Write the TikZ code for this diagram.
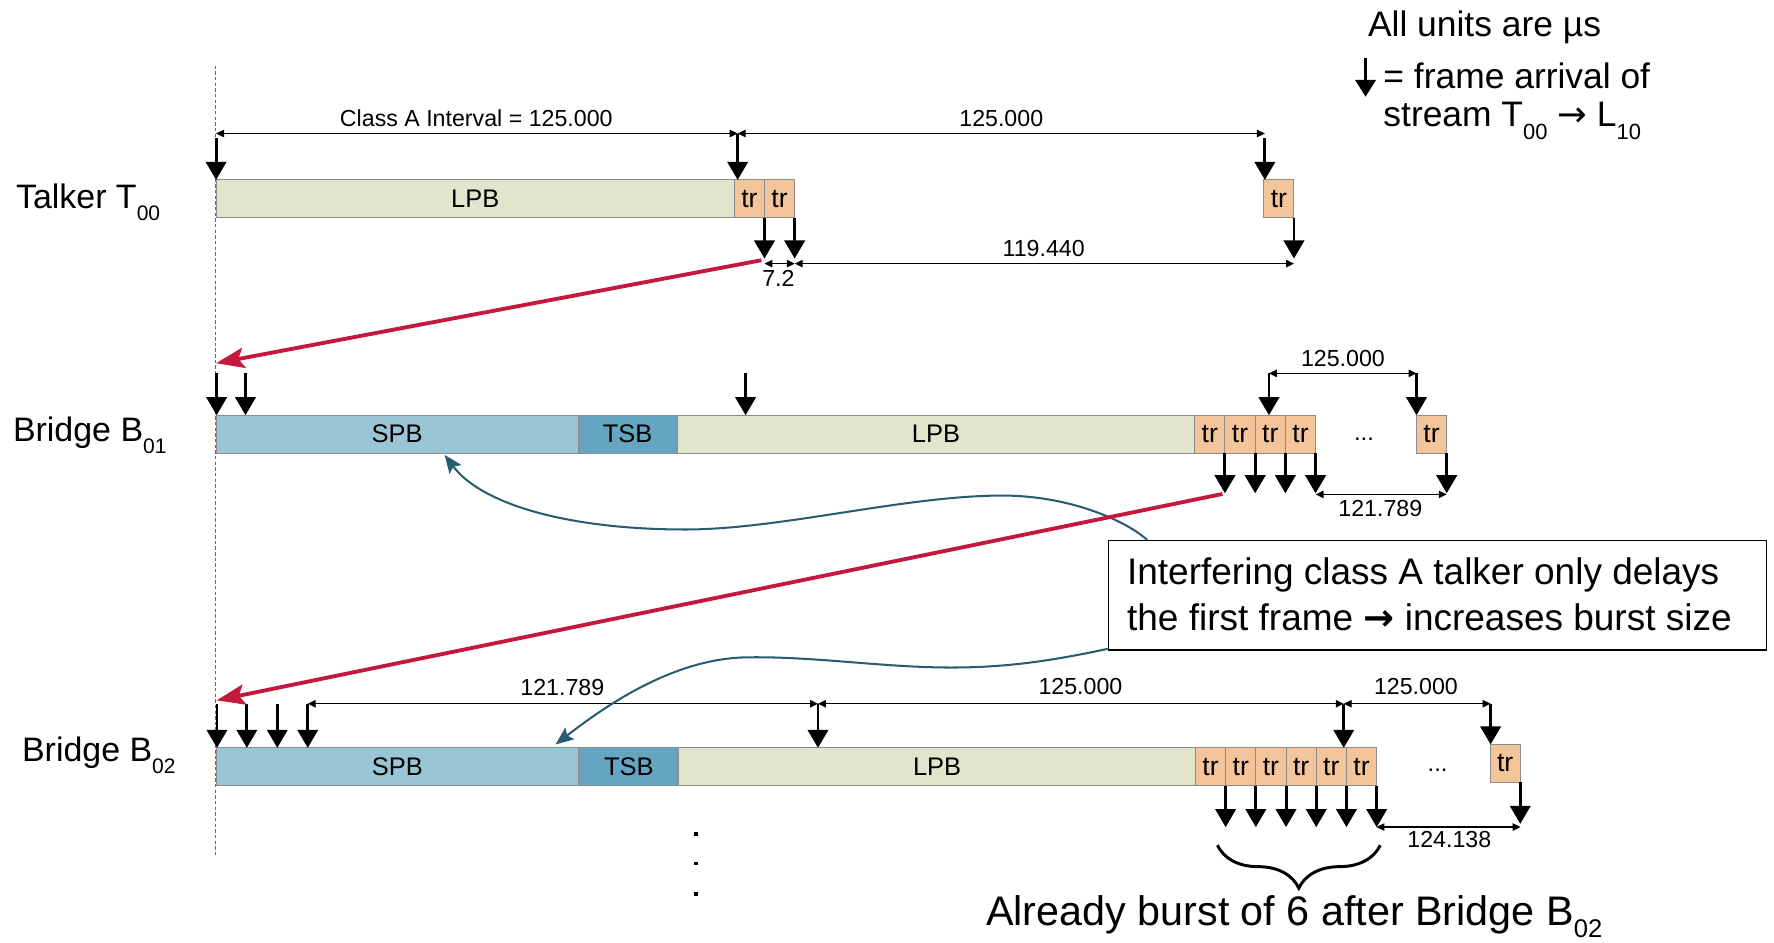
\documentclass[tikz,border=0pt]{standalone}
\usepackage{fontspec}
\setmainfont{Liberation Sans}
\newfontfamily\arrowfont{DejaVu Sans}
\usetikzlibrary{arrows.meta,decorations.pathreplacing,calc}
\definecolor{lpbc}{RGB}{225,229,204}
\definecolor{trc}{RGB}{244,196,154}
\definecolor{spbc}{RGB}{154,197,214}
\definecolor{tsbc}{RGB}{101,165,194}
\definecolor{boxgray}{RGB}{140,140,140}
\definecolor{redc}{RGB}{196,24,60}
\definecolor{tealc}{RGB}{42,92,112}
\newcommand\subtxt[1]{\raisebox{-0.36em}{\scalebox{0.62}{#1}}}
\newcommand\subtxtb[1]{\raisebox{-0.28em}{\scalebox{0.62}{#1}}}
\begin{document}
\begin{tikzpicture}[x=1pt,y=-1pt,
  bar/.style={draw=boxgray,line width=0.9pt,anchor=north west,inner sep=0pt,outer sep=0pt,minimum height=33.5,font=\fontsize{22.5}{26}\selectfont},
  lpb/.style={bar,fill=lpbc},
  trb/.style={bar,fill=trc,minimum width=26.7,font=\fontsize{23.5}{27}\selectfont},
  spb/.style={bar,fill=spbc},
  tsb/.style={bar,fill=tsbc},
  arr/.style={line width=2.6pt,-{Triangle[length=16pt,width=18pt]}},
  legarr/.style={line width=2.8pt,-{Triangle[length=15pt,width=18pt]}},
  dimline/.style={line width=1.1pt,{Triangle[length=7pt,width=6.5pt]}-{Triangle[length=7pt,width=6.5pt]}},
  dimlab/.style={font=\fontsize{20.5}{24}\selectfont,inner sep=0pt},
  rowlab/.style={font=\fontsize{30}{34}\selectfont,anchor=base west,inner sep=0pt},
  dotsl/.style={font=\fontsize{21}{25}\selectfont,inner sep=0pt},
  redarr/.style={draw=redc,line width=3.4pt,-{Stealth[length=25pt,width=18pt,inset=5pt]}},
  wave/.style={draw=tealc,line width=1.8pt,-{Stealth[length=16pt,width=13pt,inset=3pt]}},
  refline/.style={draw=black!60,line width=0.7pt,dash pattern=on 3pt off 2pt},
  notebox/.style={draw=black,line width=1.3pt,fill=white,anchor=north west,inner sep=0pt},
  notetext/.style={font=\fontsize{32.7}{40}\selectfont,anchor=base west,inner sep=0pt},
  legtext/.style={font=\fontsize{31.3}{36}\selectfont,anchor=base west,inner sep=0pt},
  vdot/.style={fill=black,inner sep=0pt,minimum size=3pt},
  bracest/.style={line width=2.6pt,decorate,decoration={brace,amplitude=38pt}}
]
\useasboundingbox (0,0) rectangle (1568,833);

% reference line
\coordinate (v0) at (190.5,58);
\coordinate (v1) at (190.5,757);
\draw[refline] (v0) -- (v1);

% legend
\node[legtext] (lg1) at (1209,32.4) {All units are µs};
\coordinate (lgA) at (1207,51.6);
\coordinate (lgB) at (1207,85.5);
\draw[legarr] (lgA) -- (lgB);
\node[legtext] (lg2) at (1222.6,78) {= frame arrival of};
\node[legtext] (lg3) at (1222.6,112) {stream T\subtxt{00} {\arrowfont →} L\subtxt{10}};

% ---------------- Talker ----------------
\node[rowlab] (labT) at (14,184) {Talker T\subtxt{00}};
\node[lpb,minimum width=458] (tL) at (191,159) {LPB};
\node[trb] (tR1) at (tL.north east) {tr};
\node[trb] (tR2) at (tR1.north east) {tr};
\node[trb] (tR3) at (1117,159) {tr};

\coordinate (tA1) at (191,122);
\coordinate (tA2) at (652,118);
\coordinate (tA3) at (1118,122);
\coordinate (tD0) at (191,118);
\coordinate (tD3) at (1118,118);
\draw[arr] (tA1) -- (tA1 |- tL.north);
\draw[arr] (tA2) -- (tA2 |- tL.north);
\draw[arr] (tA3) -- (tA3 |- tR3.north);
\draw[dimline] (tD0) -- (tA2);
\draw[dimline] (tA2) -- (tD3);
\node[dimlab] (tl1) at (421,104.5) {Class A Interval = 125.000};
\node[dimlab] (tl2) at (885,104.5) {125.000};

\draw[arr] (tR1.south east) -- ++(0,36) coordinate (tB1);
\draw[arr] (tR2.south east) -- ++(0,36) coordinate (tB2);
\draw[arr] (tR3.south east) -- ++(0,36) coordinate (tB3);
\coordinate (tC1) at ($(tB1)+(0,4.5)$);
\coordinate (tC2) at ($(tB2)+(0,4.5)$);
\coordinate (tC3) at ($(tB3)+(0,4.5)$);
\draw[dimline] (tC1) -- (tC2);
\draw[dimline] (tC2) -- (tC3);
\node[dimlab] (tl3) at (688,246) {7.2};
\node[dimlab] (tl4) at (922.5,219.5) {119.440};

% ---------------- Bridge B01 ----------------
\node[rowlab] (labA) at (11.3,390) {Bridge B\subtxt{01}};
\node[spb,minimum width=320] (aS) at (191,367) {SPB};
\node[tsb,minimum width=87.5] (aT) at (aS.north east) {TSB};
\node[lpb,minimum width=457.5] (aL) at (aT.north east) {LPB};
\node[trb] (aR1) at (aL.north east) {tr};
\node[trb] (aR2) at (aR1.north east) {tr};
\node[trb] (aR3) at (aR2.north east) {tr};
\node[trb] (aR4) at (aR3.north east) {tr};
\node[dotsl] (aDots) at (1205.6,388) {...};
\node[trb] (aR5) at (1252,367) {tr};

\coordinate (aA1) at (191.5,330);
\coordinate (aA2) at (217,330);
\coordinate (aA3) at (659,330);
\coordinate (aA4) at (1121.6,330);
\coordinate (aA5) at (1252,330);
\foreach \c in {aA1,aA2,aA3,aA4,aA5} \draw[arr] (\c) -- (\c |- aS.north);
\draw[dimline] (aA4) -- (aA5);
\node[dimlab] (al1) at (1187,316.5) {125.000};

\foreach \n in {1,...,5} \draw[arr] (aR\n.south east) -- ++(0,35.5) coordinate (aB\n);
\coordinate (aC4) at ($(aB4)+(0,1)$);
\coordinate (aC5) at ($(aB5)+(0,1)$);
\draw[dimline] (aC4) -- (aC5);
\node[dimlab] (al2) at (1220,449.5) {121.789};

% ---------------- Bridge B02 ----------------
\node[rowlab] (labB) at (19.3,673) {Bridge B\subtxt{02}};
\node[spb,minimum width=320.5] (bS) at (191,661) {SPB};
\node[tsb,minimum width=88.5] (bT) at (bS.north east) {TSB};
\node[lpb,minimum width=456.6] (bL) at (bT.north east) {LPB};
\node[trb] (bR1) at (bL.north east) {tr};
\node[trb] (bR2) at (bR1.north east) {tr};
\node[trb] (bR3) at (bR2.north east) {tr};
\node[trb] (bR4) at (bR3.north east) {tr};
\node[trb] (bR5) at (bR4.north east) {tr};
\node[trb] (bR6) at (bR5.north east) {tr};
\node[dotsl] (bDots) at (1270.6,681) {...};
\node[trb] (bR7) at (1317,658) {tr};

\coordinate (bA1) at (191.8,622);
\coordinate (bA2) at (218.2,622);
\coordinate (bA3) at (245.1,622);
\coordinate (bA4) at (272,622);
\coordinate (bA5) at (723,622);
\coordinate (bA6) at (1187.7,622);
\coordinate (bA7) at (1317.5,622);
\foreach \c in {bA1,bA2,bA3,bA4,bA5,bA6} \draw[arr] (\c) -- (\c |- bS.north);
\draw[arr] (bA7) -- (bA7 |- bR7.north);
\draw[dimline] (bA4) -- (bA5);
\draw[dimline] (bA5) -- (bA6);
\draw[dimline] (bA6) -- (bA7);
\node[dimlab] (bl1) at (497,607.5) {121.789};
\node[dimlab] (bl2) at (955,607) {125.000};
\node[dimlab] (bl3) at (1251.5,607) {125.000};

\foreach \n in {1,...,6} \draw[arr] (bR\n.south east) -- ++(0,36.6) coordinate (bB\n);
\draw[arr] (bR7.south east) -- ++(0,36.7) coordinate (bB7);
\coordinate (bC6) at (1216.6,731);
\coordinate (bC7) at (1344,731);
\draw[dimline] (bC6) -- (bC7);
\node[dimlab] (bl4) at (1281,742) {124.138};

% brace and burst text
\coordinate (brR) at (1220,747);
\coordinate (brL) at (1076,747);
\draw[bracest] (brR) -- (brL);
\node[font=\fontsize{36.5}{42}\selectfont,anchor=base,inner sep=0pt] (burst) at (1144,818) {Already burst of 6 after Bridge B\subtxtb{02}};

% vertical dots
\node[vdot] (d1) at (615,737) {};
\node[vdot] (d2) at (615,763) {};
\node[vdot] (d3) at (615,790) {};

% callout curves
\coordinate (cbNW) at (979,477.3);
\coordinate (w1s) at (1014,477.3);
\coordinate (w1e) at (393,402);
\draw[wave] (w1s) .. controls (995,460) and (945,438) .. (886,438)
   .. controls (800,438) and (690,468) .. (606,468)
   .. controls (500,468) and (425,445) .. (w1e);
\coordinate (w2s) at (979,573.5);
\coordinate (w2e) at (491,658);
\draw[wave] (w2s) .. controls (930,584) and (890,590) .. (841,590)
   .. controls (780,590) and (720,580) .. (660,581)
   .. controls (595,582) and (535,624) .. (w2e);

% red arrows
\coordinate (r1s) at (673,230);
\coordinate (r1e) at (191,321);
\draw[redarr] (r1s) -- (r1e);
\coordinate (r2s) at (1080.5,436.6);
\coordinate (r2e) at (191.5,619);
\draw[redarr] (r2s) -- (r2e);

% callout box
\node[notebox,minimum width=581.5,minimum height=96.7] (cb) at (cbNW) {};
\node[notetext] (ct1) at (996,517) {Interfering class A talker only delays};
\node[notetext] (ct2) at (996,557) {the first frame {\arrowfont\bfseries →} increases burst size};
\end{tikzpicture}
\end{document}
